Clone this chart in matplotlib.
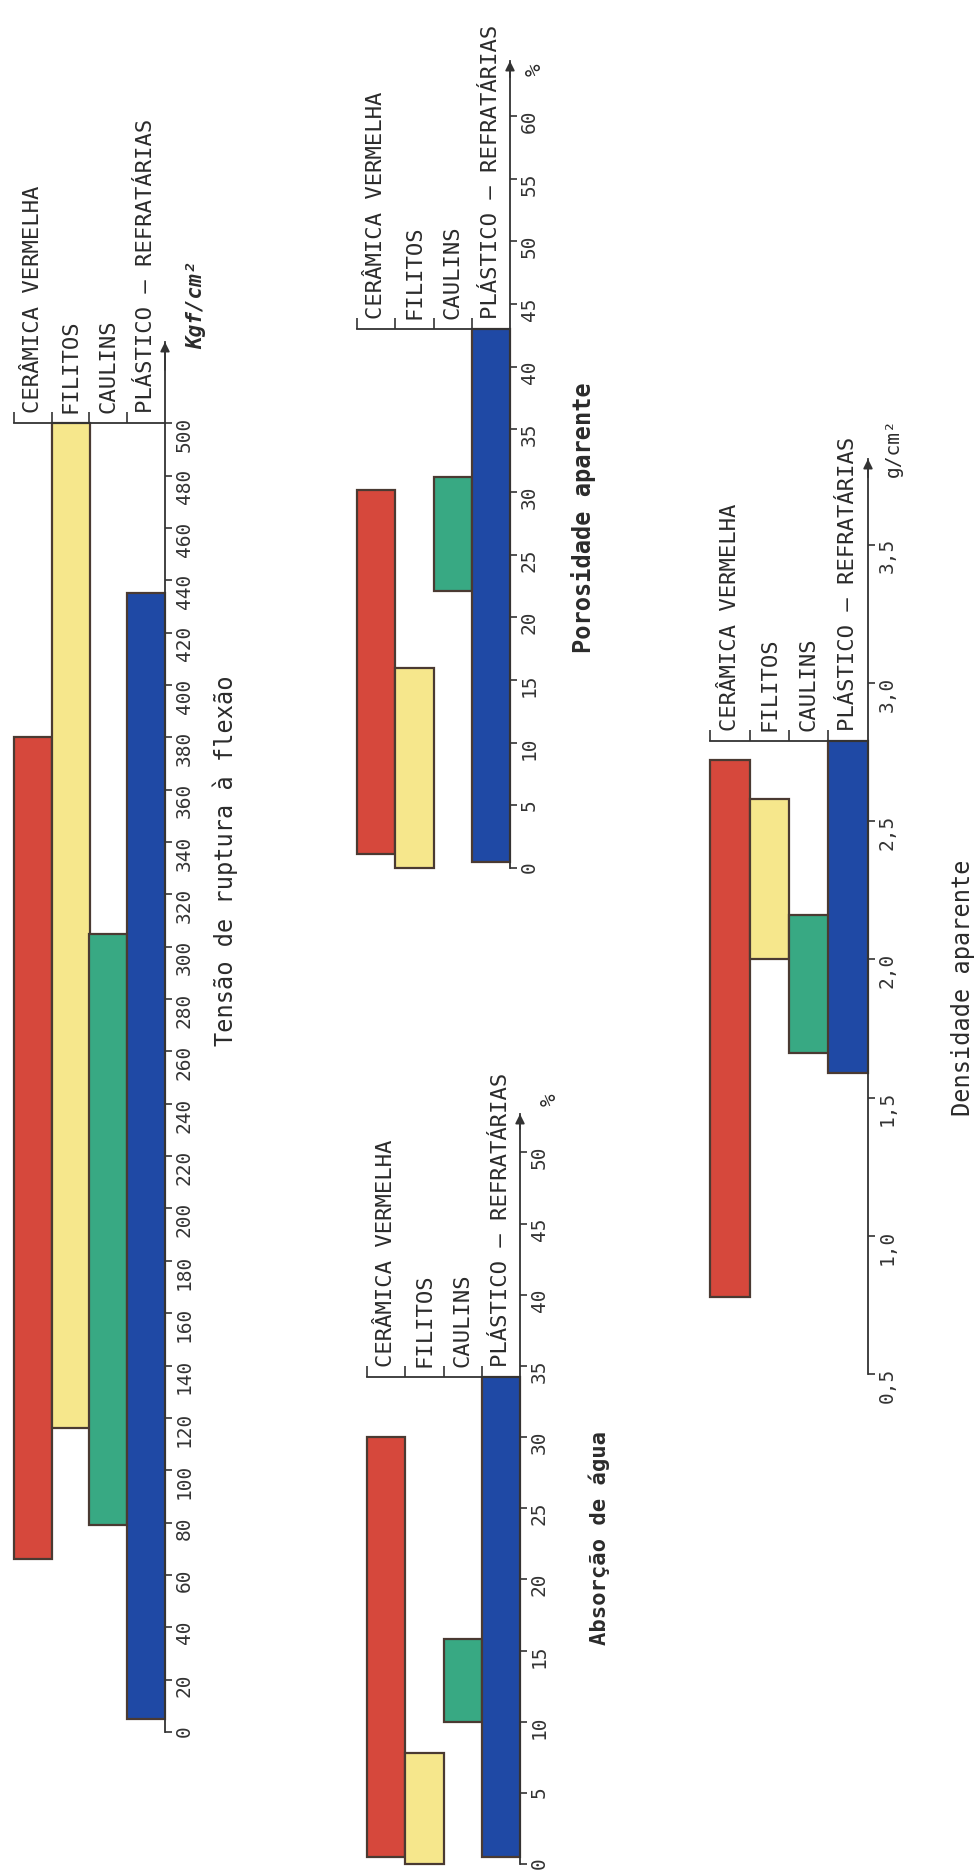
import matplotlib
matplotlib.use("Agg")
import matplotlib.pyplot as plt

plt.rcParams["font.family"] = ["DejaVu Sans Mono", "DejaVu Sans"]

# ---- data -------------------------------------------------------------
categories = ["CERÂMICA VERMELHA", "FILITOS", "CAULINS", "PLÁSTICO – REFRATÁRIAS"]
colors = ["#d6483c", "#f6e78c", "#38a983", "#1f49a5"]
edge = "#4a3a32"

# Tensão de ruptura à flexão (kgf/cm²)
tensao_min = [66, 116, 79, 5]
tensao_max = [380, 500, 305, 435]
tensao_ticks = list(range(0, 501, 20))
tensao_labels = [str(v) for v in tensao_ticks]

# Porosidade aparente (%)
poros_min = [1.1, 0.0, 22.1, 0.5]
poros_max = [30.2, 16.0, 31.2, 43.0]
poros_ticks = list(range(0, 61, 5))
poros_labels = [str(v) for v in poros_ticks]

# Absorção de água (%)
absor_min = [0.5, 0.0, 10.0, 0.5]
absor_max = [30.0, 7.8, 15.8, 34.2]
absor_ticks = list(range(0, 51, 5))
absor_labels = [str(v) for v in absor_ticks]

# Densidade aparente (g/cm³)
dens_min = [0.78, 2.00, 1.66, 1.59]
dens_max = [2.72, 2.58, 2.16, 2.79]
dens_ticks = [0.5, 1.0, 1.5, 2.0, 2.5, 3.0, 3.5]
dens_labels = ["0,5", "1,0", "1,5", "2,0", "2,5", "3,0", "3,5"]

# ---- figure -----------------------------------------------------------
W, H = 976, 1874
fig = plt.figure(figsize=(W / 100, H / 100), dpi=100)
fig.patch.set_facecolor("white")


def panel(left_px, right_px, v_lo, px_lo, v_hi, px_hi,
          vmin, vmax, ticks, labels):
    ax = fig.add_axes([left_px / W, 1 - px_lo / H,
                       (right_px - left_px) / W, (px_lo - px_hi) / H])
    ax.set_xlim(-0.5, 3.5)
    ax.set_ylim(v_lo, v_hi)
    ax.patch.set_alpha(0)
    for s in ("left", "top", "bottom"):
        ax.spines[s].set_visible(False)
    ax.spines["right"].set_linewidth(1.3)
    ax.spines["right"].set_color("#333333")
    ax.xaxis.set_visible(False)
    ax.yaxis.tick_right()
    ax.set_yticks(ticks)
    ax.set_yticklabels(labels)
    ax.tick_params(axis="y", direction="out", length=5, width=1.2,
                   pad=2, labelsize=14, labelrotation=90,
                   colors="#333333")

    heights = [b - a for a, b in zip(vmin, vmax)]
    ax.bar(range(4), heights, bottom=vmin, width=1.0, color=colors,
           edgecolor=edge, linewidth=1.6, clip_on=False, zorder=2)

    # arrow head at the end of the value axis
    ax.annotate("", xy=(3.5, v_hi), xytext=(3.5, v_hi - (v_hi - v_lo) * 0.02),
                arrowprops=dict(arrowstyle="-|>", color="#333333", lw=1.2,
                                mutation_scale=14, shrinkA=0, shrinkB=0),
                annotation_clip=False)

    # bracket carrying the category names
    top = max(vmax)
    ax.plot([-0.5, 3.5], [top, top], color="#333333", lw=1.3,
            clip_on=False, zorder=3)
    ax.plot([-0.5, 0.5, 1.5, 2.5], [top] * 4, linestyle="none", marker=2,
            markersize=8, mew=1.2, color="#333333", clip_on=False)
    for i, name in enumerate(categories):
        ax.annotate(name, xy=(i, top), xytext=(0, 8),
                    textcoords="offset points", rotation=90,
                    ha="center", va="bottom", fontsize=16, color="#2b2b2b",
                    annotation_clip=False)
    return ax


ax1 = panel(14, 165, 0, 1733, 531, 343, tensao_min, tensao_max,
            tensao_ticks, tensao_labels)
ax2 = panel(357, 510, 0, 869, 64.4, 62, poros_min, poros_max,
            poros_ticks, poros_labels)
ax3 = panel(367, 520, 0, 1865, 52.7, 1115, absor_min, absor_max,
            absor_ticks, absor_labels)
ax4 = panel(710, 868, 0.5, 1375, 3.81, 460, dens_min, dens_max,
            dens_ticks, dens_labels)


def ftext(x, y, s, **kw):
    fig.text(x / W, 1 - y / H, s, rotation=90, ha="center", va="center",
             color="#2b2b2b", **kw)


# axis titles
ftext(225, 861, "Tensão de ruptura à flexão", fontsize=17)
ftext(583, 518, "Porosidade aparente", fontsize=17, fontweight="bold")
ftext(599, 1538, "Absorção de água", fontsize=16, fontweight="bold")
ftext(963, 988, "Densidade aparente", fontsize=17)

# units
ftext(196, 305, "Kgf/cm²", fontsize=15, style="italic", fontweight="bold")
ftext(535, 70, "%", fontsize=15)
ftext(550, 1100, "%", fontsize=15)
ftext(893, 448, "g/cm²", fontsize=14)

fig.savefig("out.png", dpi=100, facecolor="white")
